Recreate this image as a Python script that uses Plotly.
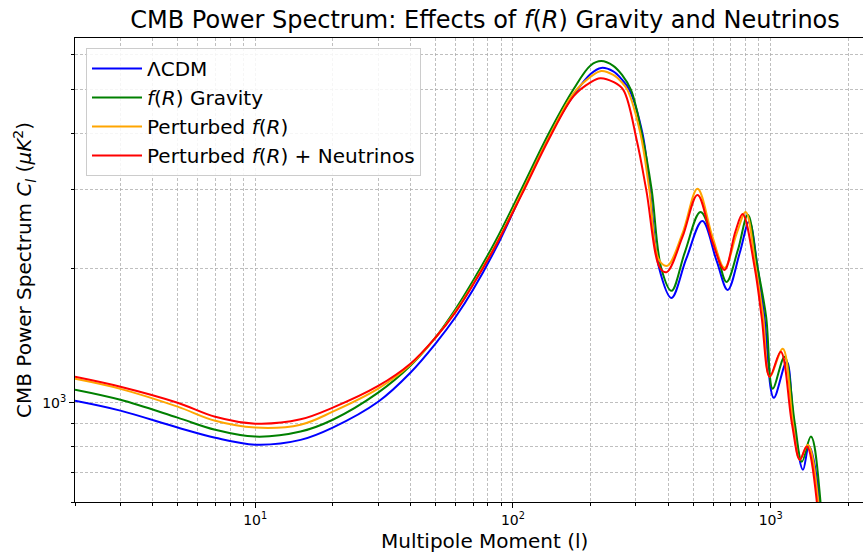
import plotly.graph_objects as go

# ---- data ----
ell_lcdm = [2, 3, 5, 7, 10, 15, 20, 30, 40, 50, 60, 70, 86, 108, 138, 172, 200, 220, 245, 265, 283, 318, 340, 369,
            412, 470, 543, 616, 681, 758, 825, 890, 945, 1028, 1153, 1230, 1334, 1406, 1550, 1680]
cl_lcdm = [1010, 960, 880, 835, 806, 826, 880, 1005, 1167, 1354, 1556, 1788, 2218, 2928, 3925, 4870, 5430, 5600, 5500,
           5270, 5000, 4000, 3000, 2000, 1715, 2095, 2547, 2080, 1787, 2160, 2540, 2000, 1556, 1026, 1235, 900, 708,
           800, 600, 150]

ell_fr = [2, 3, 5, 7, 10, 15, 20, 30, 40, 50, 60, 70, 86, 108, 138, 172, 200, 220, 245, 265, 287, 316, 345, 376,
          412, 465, 534, 616, 674, 746, 815, 890, 960, 1018, 1132, 1240, 1321, 1432, 1560, 1690]
cl_fr = [1069, 1015, 926, 870, 840, 862, 916, 1053, 1209, 1397, 1621, 1872, 2311, 3004, 4006, 5022, 5670, 5800, 5660,
         5400, 5000, 4000, 3000, 2000, 1778, 2174, 2667, 2174, 1862, 2195, 2630, 2000, 1556, 1075, 1267, 900, 738,
         840, 600, 150]

ell_pfr = [2, 3, 5, 7, 10, 15, 20, 30, 40, 50, 60, 70, 86, 108, 138, 172, 200, 220, 245, 265, 278, 312, 338, 368,
           397, 455, 520, 594, 662, 738, 800, 875, 935, 991, 1114, 1220, 1297, 1394, 1530, 1660]
cl_pfr = [1131, 1074, 980, 911, 880, 893, 955, 1075, 1215, 1397, 1605, 1843, 2264, 2943, 3925, 4920, 5350, 5510, 5400,
          5190, 5000, 4000, 3000, 2090, 2023, 2393, 3006, 2350, 2000, 2390, 2668, 2000, 1556, 1143, 1320, 900, 746,
          806, 600, 150]

ell_pfrnu = [2, 3, 5, 7, 10, 15, 20, 30, 40, 50, 60, 70, 86, 108, 138, 172, 200, 218, 245, 268, 302, 329, 372,
             395, 455, 520, 594, 662, 729, 778, 867, 922, 991, 1094, 1208, 1297, 1380, 1510, 1640]
cl_pfrnu = [1143, 1086, 1000, 930, 898, 918, 975, 1090, 1222, 1397, 1596, 1834, 2252, 2913, 3885, 4845, 5200, 5310,
            5210, 5000, 3865, 2990, 2000, 1958, 2350, 2912, 2290, 1980, 2410, 2641, 2000, 1556, 1143, 1300, 900, 746,
            798, 600, 150]

series = [
    ("ΛCDM", ell_lcdm, cl_lcdm, "#0000ff"),
    ("<i>f</i>(<i>R</i>) Gravity", ell_fr, cl_fr, "#008000"),
    ("Perturbed <i>f</i>(<i>R</i>)", ell_pfr, cl_pfr, "#ffa500"),
    ("Perturbed <i>f</i>(<i>R</i>) + Neutrinos", ell_pfrnu, cl_pfrnu, "#ff0000"),
]

x_major = [10, 100, 1000]
x_major_text = ["10<sup>1</sup>", "10<sup>2</sup>", "10<sup>3</sup>"]
x_minor = [2, 3, 4, 5, 6, 7, 8, 9, 20, 30, 40, 50, 60, 70, 80, 90,
           200, 300, 400, 500, 600, 700, 800, 900, 2000]
y_major = [1000]
y_major_text = ["10<sup>3</sup>"]
y_minor = [600, 700, 800, 900, 2000, 3000, 4000, 5000, 6000]

FONT = "DejaVu Sans"
GRID = "rgba(170,170,170,0.75)"

fig = go.Figure()
for name, xs, ys, col in series:
    fig.add_trace(go.Scatter(x=xs, y=ys, mode="lines", name=name,
                             line=dict(color=col, width=2, shape="spline", smoothing=1.0)))

W, H = 863, 552
L, T, B = 75, 38, 50
fig.update_layout(
    width=W, height=H,
    margin=dict(l=L, r=0, t=T, b=B),
    paper_bgcolor="white", plot_bgcolor="white",
    font=dict(family=FONT, color="black"),
    title=dict(text="CMB Power Spectrum: Effects of <i>f</i>(<i>R</i>) Gravity and Neutrinos",
               x=485 / W, xanchor="center", xref="container",
               y=1 - 20 / H, yanchor="middle", yref="container",
               font=dict(size=24, family=FONT, color="black")),
    legend=dict(x=(86 - L) / (W - L), y=(502 - 48) / 464, xanchor="left", yanchor="top",
                bgcolor="rgba(255,255,255,0.85)", bordercolor="#cccccc", borderwidth=1,
                font=dict(size=20, family=FONT), itemwidth=50, tracegroupgap=0),
    showlegend=True,
)
fig.update_xaxes(
    type="log", range=[0.30103, 3.358],
    showline=True, linecolor="black", linewidth=1, mirror=True,
    tickmode="array", tickvals=x_major, ticktext=x_major_text,
    ticks="outside", ticklen=5, tickcolor="black",
    tickfont=dict(size=14, family=FONT),
    showgrid=True, gridcolor=GRID, griddash="3px,2px", gridwidth=1,
    minor=dict(tickmode="array", tickvals=x_minor, ticks="outside", ticklen=3, tickcolor="black",
               showgrid=True, gridcolor=GRID, griddash="3px,2px", gridwidth=1),
    zeroline=False,
)
fig.update_yaxes(
    type="log", range=[2.77815, 3.815],
    showline=True, linecolor="black", linewidth=1, mirror=False,
    tickmode="array", tickvals=y_major, ticktext=y_major_text,
    ticks="outside", ticklen=5, tickcolor="black",
    tickfont=dict(size=14, family=FONT),
    showgrid=True, gridcolor=GRID, griddash="3px,2px", gridwidth=1,
    minor=dict(tickmode="array", tickvals=y_minor, ticks="outside", ticklen=3, tickcolor="black",
               showgrid=True, gridcolor=GRID, griddash="3px,2px", gridwidth=1),
    zeroline=False,
)
fig.add_annotation(text="Multipole Moment (l)", xref="paper", yref="paper",
                   x=(485 - L) / (W - L), y=-(541 - 502) / 464, xanchor="center", yanchor="middle",
                   showarrow=False, font=dict(size=20, family=FONT, color="black"))
fig.add_annotation(text="CMB Power Spectrum <i>C<sub>l</sub></i> (<i>μK</i><sup>2</sup>)",
                   xref="paper", yref="paper", textangle=-90,
                   x=-(L - 24) / (W - L), y=0.5, xanchor="center", yanchor="middle",
                   showarrow=False, font=dict(size=20, family=FONT, color="black"))

fig.write_html("out.html")
